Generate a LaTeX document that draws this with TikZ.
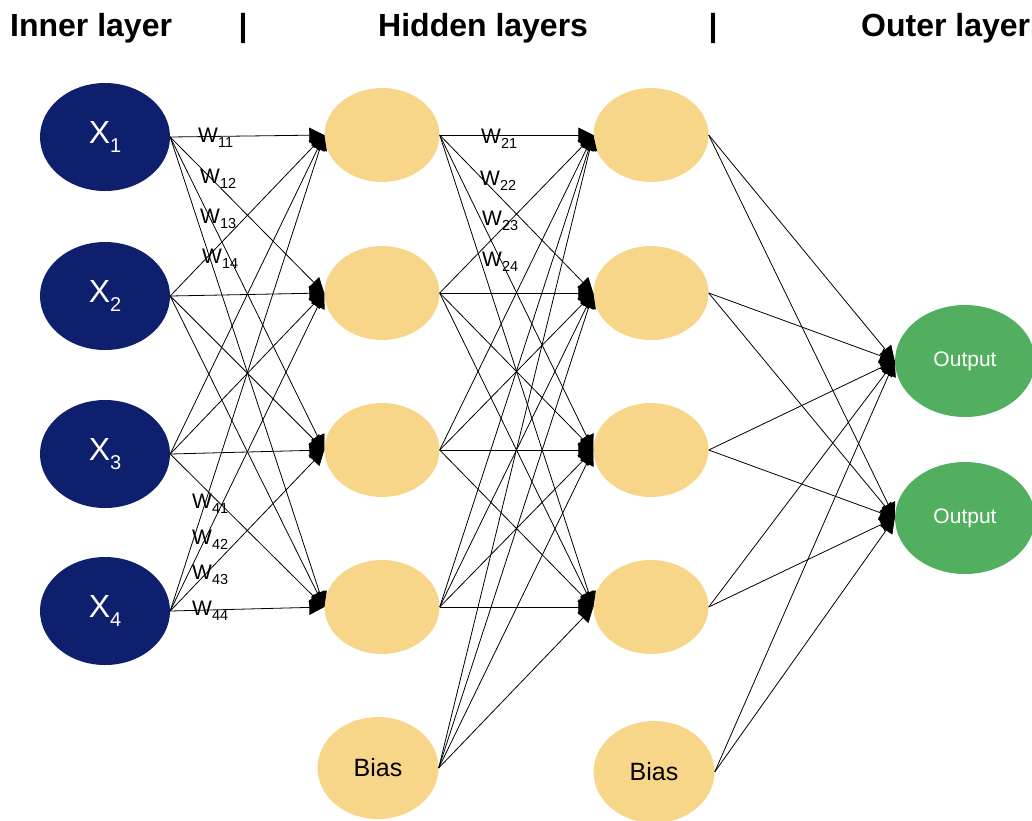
\documentclass[tikz,border=0pt]{standalone}
\usepackage{fontspec}
\setmainfont{Liberation Sans}
\usepackage{graphicx}
\usetikzlibrary{arrows.meta,shapes.geometric}

\definecolor{navy}{RGB}{14,31,110}
\definecolor{sand}{RGB}{247,214,138}
\definecolor{leaf}{RGB}{82,175,95}

% subscripted labels
\newcommand{\xin}[1]{X\raisebox{-0.3em}{\fontsize{20}{20}\selectfont #1}}
\newcommand{\wt}[1]{W\raisebox{-0.25em}{\fontsize{14.5}{14.5}\selectfont #1}}

\begin{document}
\begin{tikzpicture}[
  x=1pt, y=-1pt,
  inp/.style={ellipse,fill=navy,minimum width=130pt,minimum height=108pt,
              inner sep=0pt,text=white,font=\fontsize{32}{32}\selectfont},
  hid/.style={ellipse,fill=sand,minimum width=115pt,minimum height=94pt,inner sep=0pt},
  biasnode/.style={hid,minimum width=121pt,minimum height=102pt,
              font=\fontsize{25}{25}\selectfont},
  outp/.style={ellipse,fill=leaf,minimum width=140pt,minimum height=112pt,
              inner sep=0pt,text=white,font=\fontsize{21}{21}\selectfont},
  conn/.style={line width=0.8pt,-{Triangle[length=15pt,width=15pt]}},
  wlab/.style={anchor=base west,inner sep=0pt,font=\fontsize{21}{21}\selectfont},
  head/.style={anchor=base west,inner sep=0pt,font=\bfseries\fontsize{32}{32}\selectfont},
]
  \useasboundingbox (0,0) rectangle (1032,820);

  % Column headings
  \node[head] (tin)  at (10,36)  {Inner layer};
  \node[head,anchor=base] (sep1) at (243,36) {|};
  \node[head] (thid) at (378,36) {Hidden layers};
  \node[head,anchor=base] (sep2) at (713,36) {|};
  \node[head] (tout) at (861,36) {Outer layer};

  % Input layer
  \node[inp] (x1) at (105,137) {\xin{1}};
  \node[inp] (x2) at (105,296) {\xin{2}};
  \node[inp] (x3) at (105,454) {\xin{3}};
  \node[inp] (x4) at (105,611) {\xin{4}};

  % First hidden layer
  \node[hid] (a1) at (382,135) {};
  \node[hid] (a2) at (382,293) {};
  \node[hid] (a3) at (382,450) {};
  \node[hid] (a4) at (382,607) {};
  \node[biasnode] (b1) at (378,768) {Bias};

  % Second hidden layer
  \node[hid] (c1) at (651,135) {};
  \node[hid] (c2) at (651,293) {};
  \node[hid] (c3) at (651,450) {};
  \node[hid] (c4) at (651,607) {};
  \node[biasnode] (b2) at (654,772) {Bias};

  % Output layer
  \node[outp] (o1) at (965,361) {Output};
  \node[outp] (o2) at (965,518) {Output};

  % Connections
  \foreach \i in {1,...,4}{
    \foreach \j in {1,...,4}{
      \draw[conn] (x\i.east) -- (a\j.west);
      \draw[conn] (a\i.east) -- (c\j.west);
    }
    \draw[conn] (b1.east) -- (c\i.west);
    \draw[conn] (c\i.east) -- (o1.west);
    \draw[conn] (c\i.east) -- (o2.west);
  }
  \draw[conn] (b2.east) -- (o1.west);
  \draw[conn] (b2.east) -- (o2.west);

  % Weights
  \node[wlab] (w11) at (198,142) {\wt{11}};
  \node[wlab] (w12) at (200,183) {\wt{12}};
  \node[wlab] (w13) at (200,223) {\wt{13}};
  \node[wlab] (w14) at (202,263) {\wt{14}};
  \node[wlab] (w41) at (192,508) {\wt{41}};
  \node[wlab] (w42) at (192,544) {\wt{42}};
  \node[wlab] (w43) at (192,579) {\wt{43}};
  \node[wlab] (w44) at (192,615) {\wt{44}};
  \node[wlab] (w21) at (481,143) {\wt{21}};
  \node[wlab] (w22) at (480,185) {\wt{22}};
  \node[wlab] (w23) at (482,225) {\wt{23}};
  \node[wlab] (w24) at (482,266) {\wt{24}};
\end{tikzpicture}
\end{document}
